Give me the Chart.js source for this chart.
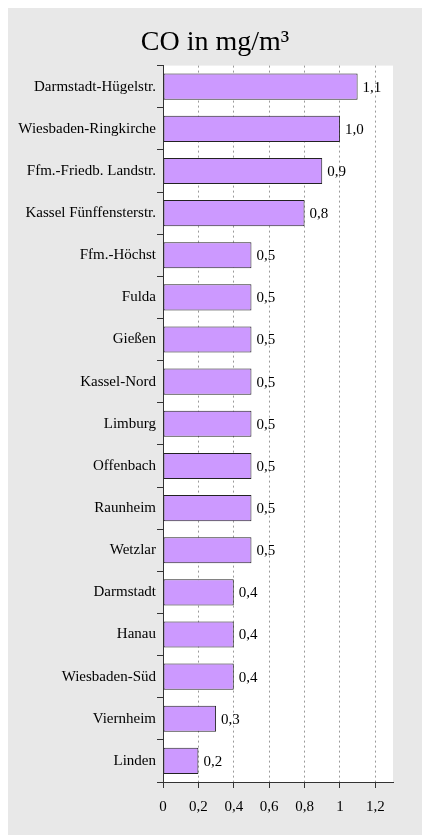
<!DOCTYPE html>
<html>
<head>
<meta charset="utf-8">
<script src="https://cdn.jsdelivr.net/npm/chart.js@4"></script>
<style>
    html, body { margin: 0; padding: 0; background: #ffffff; }
    #panel {
        position: absolute;
        left: 8px;
        top: 8px;
        width: 414px;
        height: 827px;
        background: #e8e8e8;
    }
</style>
</head>
<body>
<div id="panel"><canvas id="co-chart"></canvas></div>
<script>
var stations = [
    'Darmstadt-Hügelstr.', 'Wiesbaden-Ringkirche', 'Ffm.-Friedb. Landstr.',
    'Kassel Fünffensterstr.', 'Ffm.-Höchst', 'Fulda', 'Gießen', 'Kassel-Nord',
    'Limburg', 'Offenbach', 'Raunheim', 'Wetzlar', 'Darmstadt', 'Hanau',
    'Wiesbaden-Süd', 'Viernheim', 'Linden'
];
var coValues = [1.1, 1.0, 0.9, 0.8, 0.5, 0.5, 0.5, 0.5, 0.5, 0.5, 0.5, 0.5, 0.4, 0.4, 0.4, 0.3, 0.2];
var xTicks = [0, 0.2, 0.4, 0.6, 0.8, 1, 1.2];

var serif = "'Liberation Serif', 'Times New Roman', serif";

function fmtTick(v) {
    return String(Math.round(v * 10) / 10).replace('.', ',');
}

// white plot background
var plotBg = {
    id: 'plotBg',
    beforeDraw: function(chart) {
        const a = chart.chartArea;
        const ctx = chart.ctx;
        ctx.save();
        ctx.fillStyle = '#ffffff';
        ctx.fillRect(a.left, a.top, a.right - a.left, a.bottom - a.top);
        ctx.restore();
    }
};

// value labels right of each bar
var valueLabels = {
    id: 'valueLabels',
    afterDatasetsDraw: function(chart) {
        const ctx = chart.ctx;
        const meta = chart.getDatasetMeta(0);
        ctx.save();
        ctx.font = '15px ' + serif;
        ctx.fillStyle = '#000000';
        ctx.textAlign = 'left';
        ctx.textBaseline = 'middle';
        meta.data.forEach(function(bar, i) {
            const txt = coValues[i].toFixed(1).replace('.', ',');
            ctx.fillText(txt, bar.x + 5, bar.y + 1);
        });
        ctx.restore();
    }
};

new Chart(document.getElementById('co-chart'), {
    type: 'bar',
    data: {
        labels: stations,
        datasets: [{
            data: coValues,
            backgroundColor: '#cc99ff',
            borderColor: '#222222',
            borderWidth: 1,
            borderSkipped: false,
            barPercentage: 0.62,
            categoryPercentage: 1
        }]
    },
    options: {
        indexAxis: 'y',
        responsive: true,
        maintainAspectRatio: false,
        animation: false,
        layout: {
            padding: 0
        },
        plugins: {
            legend: { display: false },
            tooltip: { enabled: false },
            title: {
                display: true,
                text: 'CO in mg/m³',
                color: '#000000',
                font: { family: serif, size: 28, weight: 'normal', lineHeight: 1.2 },
                padding: { top: 18, bottom: 6 }
            }
        },
        scales: {
            x: {
                min: 0,
                max: 1.3,
                afterFit: function(scale) { scale.height = 53; },
                afterBuildTicks: function(scale) {
                    scale.ticks = xTicks.map(v => ({ value: v }));
                },
                ticks: {
                    color: '#000000',
                    font: { family: serif, size: 15 },
                    padding: 10,
                    callback: function(v) { return fmtTick(v); }
                },
                grid: {
                    color: '#9a9a9a',
                    tickColor: '#333333',
                    tickLength: 6
                },
                border: {
                    color: '#333333',
                    width: 1,
                    dash: [2, 3]
                }
            },
            y: {
                afterFit: function(scale) { scale.width = 155; },
                ticks: {
                    color: '#000000',
                    font: { family: serif, size: 15 },
                    padding: 1
                },
                grid: {
                    offset: true,
                    drawOnChartArea: false,
                    tickColor: '#333333',
                    tickLength: 6
                },
                border: {
                    color: '#333333',
                    width: 1
                }
            },
            // empty spacer on the right so the plot ends where the reference does
            spacer: {
                type: 'category',
                axis: 'y',
                position: 'right',
                afterFit: function(scale) { scale.width = 29; },
                ticks: { display: false },
                grid: { display: false, drawTicks: false },
                border: { display: false }
            }
        }
    },
    plugins: [plotBg, valueLabels]
});
</script>
</body>
</html>
